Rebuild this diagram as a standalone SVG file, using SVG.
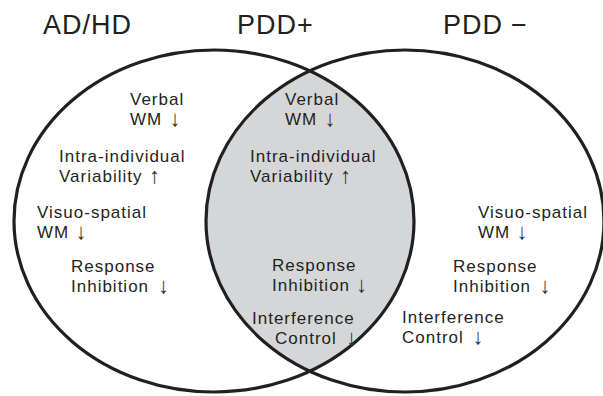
<svg xmlns="http://www.w3.org/2000/svg" width="603" height="396" viewBox="0 0 603 396">
  <style>
    .ring { fill: none; stroke: #231f20; stroke-width: 3.2; }
    .lens { fill: #d5d6d8; stroke: none; }
    .title { font-family: "Liberation Sans", Arial, sans-serif; font-size: 27px; fill: #231f20; letter-spacing: 1px; }
    .t { font-family: "Liberation Sans", Arial, sans-serif; font-size: 17px; fill: #231f20; letter-spacing: 1px; }
    .ar { font-family: "Liberation Sans", Arial, sans-serif; font-size: 22px; fill: #333333; text-anchor: middle; letter-spacing: 0; }
  </style>
  <defs>
    <clipPath id="clipLeft">
      <ellipse cx="214" cy="221" rx="200" ry="171"/>
    </clipPath>
  </defs>
  <rect width="603" height="396" fill="#ffffff"/>

  <g id="overlap">
    <ellipse class="lens" cx="405" cy="221" rx="199" ry="171" clip-path="url(#clipLeft)"/>
  </g>
  <g id="set-adhd">
    <ellipse class="ring" cx="214" cy="221" rx="200" ry="171"/>
  </g>
  <g id="set-pdd-minus">
    <ellipse class="ring" cx="405" cy="221" rx="199" ry="171"/>
  </g>

  <g id="titles">
    <text class="title" x="43" y="34">AD/HD</text>
    <text class="title" x="237" y="34">PDD+</text>
    <text class="title" x="443" y="34">PDD<tspan dx="8">−</tspan></text>
  </g>

  <g id="adhd-items">
    <text class="t" x="130" y="105">Verbal</text>
    <text class="t" x="130" y="125">WM<tspan class="ar" x="175" dy="1">↓</tspan></text>
    <text class="t" x="59" y="162">Intra-individual</text>
    <text class="t" x="59" y="182">Variability<tspan class="ar" x="154.5" dy="1">↑</tspan></text>
    <text class="t" x="37" y="218">Visuo-spatial</text>
    <text class="t" x="37" y="238">WM<tspan class="ar" x="81" dy="1">↓</tspan></text>
    <text class="t" x="71" y="272">Response</text>
    <text class="t" x="71" y="292">Inhibition<tspan class="ar" x="163.5" dy="1">↓</tspan></text>
  </g>

  <g id="shared-items">
    <text class="t" x="285" y="105">Verbal</text>
    <text class="t" x="285" y="125">WM<tspan class="ar" x="330" dy="1">↓</tspan></text>
    <text class="t" x="250" y="162">Intra-individual</text>
    <text class="t" x="250" y="182">Variability<tspan class="ar" x="345.5" dy="1">↑</tspan></text>
    <text class="t" x="272" y="271">Response</text>
    <text class="t" x="272" y="291">Inhibition<tspan class="ar" x="361.5" dy="1">↓</tspan></text>
    <text class="t" x="252" y="324">Interference</text>
    <text class="t" x="275" y="344">Control<tspan class="ar" x="351.5" dy="1">↓</tspan></text>
  </g>

  <g id="pdd-minus-items">
    <text class="t" x="478" y="218">Visuo-spatial</text>
    <text class="t" x="478" y="238">WM<tspan class="ar" x="522" dy="1">↓</tspan></text>
    <text class="t" x="453" y="272">Response</text>
    <text class="t" x="453" y="292">Inhibition<tspan class="ar" x="545" dy="1">↓</tspan></text>
    <text class="t" x="402" y="323">Interference</text>
    <text class="t" x="402" y="343">Control<tspan class="ar" x="478" dy="1">↓</tspan></text>
  </g>
</svg>
